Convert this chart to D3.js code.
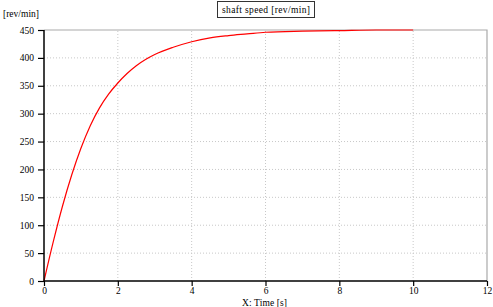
<!DOCTYPE html>
<html>
<head>
    <meta charset="utf-8">
    <title>shaft speed</title>
    <style>
        body { margin: 0; background: #fff; }
        svg { display: block; }
        .lbl { font-family: "Liberation Serif", serif; font-size: 9.5px; fill: #000; }
        .tick-text { font-family: "Liberation Serif", serif; font-size: 9.5px; fill: #000; }
    </style>
    <script src="https://d3js.org/d3.v7.min.js"></script>
</head>
<body>
<div id="chart"></div>
<script>
    // values
    const timeS = [0, 0.25, 0.5, 0.75, 1, 1.25, 1.5, 1.75, 2, 2.25, 2.5, 2.75, 3, 3.5, 4, 4.5, 5, 5.5, 6, 7, 8, 9, 10];
    const speedRpm = [0, 70, 134, 190, 238, 278, 310, 335, 355, 372, 386, 397, 406, 419, 429, 436, 440, 443, 446, 448, 449, 450, 450];
    const xTicks = [0, 2, 4, 6, 8, 10, 12];
    const yTicks = [0, 50, 100, 150, 200, 250, 300, 350, 400, 450];

    const W = 493, H = 307;
    const m = {left: 44, right: 6, top: 30, bottom: 26};

    const svg = d3.select("#chart").append("svg")
        .attr("width", W)
        .attr("height", H);

    const x = d3.scaleLinear().domain([0, 12]).range([m.left, W - m.right]);
    const y = d3.scaleLinear().domain([0, 450]).range([H - m.bottom, m.top]);

    // grid
    svg.append("g")
        .selectAll("line")
        .data(xTicks.slice(1, -1))
        .join("line")
        .attr("x1", d => x(d)).attr("x2", d => x(d))
        .attr("y1", y(0)).attr("y2", y(450))
        .attr("stroke", "#c8c8c8")
        .attr("stroke-dasharray", "1,2");

    svg.append("g")
        .selectAll("line")
        .data(yTicks.slice(1, -1))
        .join("line")
        .attr("x1", x(0)).attr("x2", x(12))
        .attr("y1", d => y(d)).attr("y2", d => y(d))
        .attr("stroke", "#c8c8c8")
        .attr("stroke-dasharray", "1,2");

    // top and right border
    svg.append("path")
        .attr("d", `M${x(0)},${y(450)}H${x(12)}V${y(0)}`)
        .attr("fill", "none")
        .attr("stroke", "#aaa")
        .attr("stroke-width", 1.2);

    // curve
    const line = d3.line()
        .x((d, i) => x(timeS[i]))
        .y(d => y(d))
        .curve(d3.curveMonotoneX);

    svg.append("path")
        .datum(speedRpm)
        .attr("d", line)
        .attr("fill", "none")
        .attr("stroke", "#ff0000")
        .attr("stroke-width", 1.2);

    // x axis
    const xAxis = svg.append("g")
        .attr("transform", `translate(0,${y(0)})`);
    xAxis.call(d3.axisBottom(x).tickValues(d3.range(0, 13, 1)).tickSize(3).tickFormat(""))
        .call(g => g.select(".domain").remove());
    xAxis.call(d3.axisBottom(x).tickValues(xTicks).tickSize(5).tickPadding(1.5))
        .call(g => g.selectAll("text").attr("class", "tick-text"))
        .call(g => g.select(".domain").attr("d", `M${x(0)},0H${x(12)}`).attr("stroke-width", 1.5));
    xAxis.selectAll("line").attr("stroke-width", 1.2);

    // y axis
    const yAxis = svg.append("g")
        .attr("transform", `translate(${x(0)},0)`);
    yAxis.call(d3.axisLeft(y).tickValues(d3.range(0, 451, 10)).tickSize(3).tickFormat(""))
        .call(g => g.select(".domain").remove());
    yAxis.call(d3.axisLeft(y).tickValues(yTicks).tickSize(6).tickPadding(4))
        .call(g => g.selectAll("text").attr("class", "tick-text"))
        .call(g => g.select(".domain").attr("d", `M0,${y(0)}V${y(450)}`).attr("stroke-width", 1.5));
    yAxis.selectAll("line").attr("stroke-width", 1.2);

    // labels
    svg.append("text")
        .attr("class", "lbl")
        .attr("x", 3).attr("y", 17)
        .attr("textLength", 36).attr("lengthAdjust", "spacing")
        .text("[rev/min]");

    svg.append("text")
        .attr("class", "lbl")
        .attr("x", 242).attr("y", 305.5)
        .attr("textLength", 45).attr("lengthAdjust", "spacing")
        .text("X: Time [s]");

    const title = svg.append("g");
    title.append("rect")
        .attr("x", 217.5).attr("y", 1.5)
        .attr("width", 97).attr("height", 16)
        .attr("fill", "#fff")
        .attr("stroke", "#333")
        .attr("stroke-width", 1);
    title.append("text")
        .attr("class", "lbl")
        .attr("x", 222).attr("y", 12.5)
        .attr("textLength", 88).attr("lengthAdjust", "spacing")
        .text("shaft speed [rev/min]");
</script>
</body>
</html>
